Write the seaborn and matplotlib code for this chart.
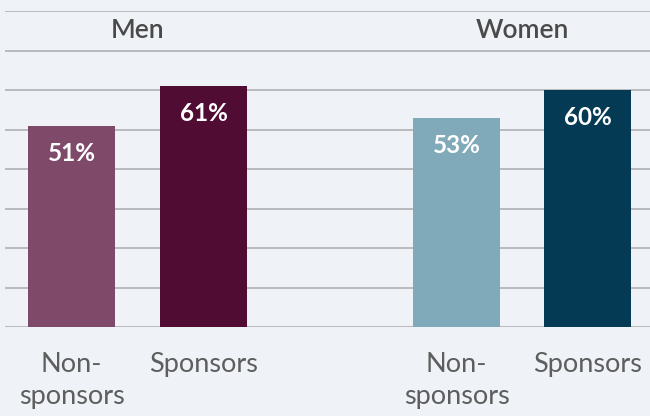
import pandas as pd
import matplotlib
matplotlib.use("Agg")
import matplotlib.pyplot as plt
import seaborn as sns

# data
groups = ["Men", "Men", "Women", "Women"]
categories = ["Non-\nsponsors", "Sponsors", "Non-\nsponsors", "Sponsors"]
values = [51, 61, 53, 60]
bar_colors = ["#7f4a6a", "#500c33", "#80a9b9", "#053a55"]

df = pd.DataFrame({"group": groups, "category": categories, "value": values, "color": bar_colors})

bg = "#eff2f6"
sns.set_theme(style="white")
plt.rcParams["font.family"] = ["Lato", "DejaVu Sans"]

fig = plt.figure(figsize=(6.5, 4.16), dpi=100, facecolor=bg)
ax_men = fig.add_axes([0.0077, 0.2139, 0.4923, 0.7596])
ax_women = fig.add_axes([0.5, 0.2139, 0.5, 0.7596])

xlims = {"Men": (-0.504, 1.92), "Women": (-1.004, 1.477)}

for ax, grp in [(ax_men, "Men"), (ax_women, "Women")]:
    sub = df[df["group"] == grp]
    ax.set_facecolor(bg)
    sns.barplot(data=sub, x="category", y="value", hue="category",
                palette=list(sub["color"]), legend=False, width=0.66,
                saturation=1, linewidth=0, ax=ax, zorder=3)
    ax.set_ylim(0, 80)
    ax.set_xlim(*xlims[grp])
    ax.set_yticks(range(0, 81, 10))
    ax.yaxis.grid(True, color="#b9babe", linewidth=1.4, zorder=0)
    ax.set_axisbelow(True)
    for s in ax.spines.values():
        s.set_visible(False)
    ax.tick_params(axis="y", left=False, labelleft=False)
    ax.tick_params(axis="x", bottom=False, pad=12)
    for lbl in ax.get_xticklabels():
        lbl.set_fontsize(19.5)
        lbl.set_color("#5e5e5e")
        lbl.set_va("top")
        lbl.set_linespacing(1.35)
    ax.set_xlabel("")
    ax.set_ylabel("")
    for i, v in enumerate(sub["value"]):
        ax.annotate(f"{v}%", xy=(i, v), xytext=(0, -20), textcoords="offset points",
                    ha="center", va="center", color="white", fontsize=17.5,
                    fontweight="bold", zorder=4)
    ax.text(0.5, 75, grp, ha="center", va="center", fontsize=19,
            color="#4a4a4a", fontweight="semibold")

fig.savefig("out.png", dpi=100, facecolor=bg)
